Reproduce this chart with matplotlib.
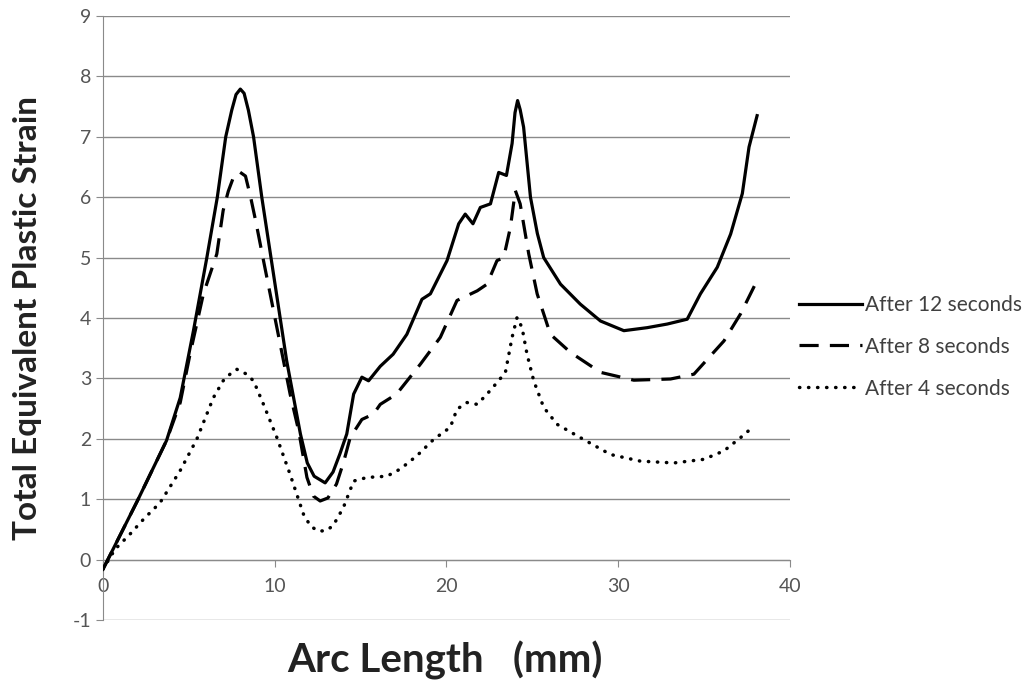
import matplotlib
matplotlib.use("Agg")
import matplotlib.pyplot as plt

# arc length (mm) / strain
x12 = [0, 2.0, 3.7, 4.5, 5.27, 6.05, 6.66, 7.15, 7.5, 7.75, 8.0, 8.22, 8.47, 8.77, 9.25,
       9.93, 10.7, 11.5, 11.9, 12.3, 12.94, 13.4, 13.8, 14.2, 14.6, 15.08, 15.47, 16.15,
       16.9, 17.7, 18.58, 19.07, 20.04, 20.72, 21.1, 21.55, 21.98, 22.57, 23.05, 23.5,
       23.83, 24.0, 24.15, 24.3, 24.5, 24.9, 25.3, 25.67, 26.65, 27.8, 28.98, 30.34, 31.7,
       32.87, 34.03, 34.8, 35.78, 36.56, 37.24, 37.63, 38.1]
y12 = [-0.16, 0.97, 1.97, 2.68, 3.79, 5.0, 6.0, 7.0, 7.44, 7.7, 7.79, 7.72, 7.44, 7.0, 6.0,
       4.73, 3.29, 2.08, 1.6, 1.38, 1.27, 1.45, 1.75, 2.08, 2.74, 3.02, 2.96, 3.2,
       3.4, 3.73, 4.31, 4.4, 4.95, 5.56, 5.72, 5.56, 5.83, 5.89, 6.41, 6.36,
       6.89, 7.4, 7.6, 7.45, 7.16, 6.0, 5.4, 5.0, 4.56, 4.23, 3.95, 3.79, 3.84,
       3.9, 3.98, 4.4, 4.84, 5.39, 6.06, 6.83, 7.35]

x8 = [0, 2.0, 3.7, 4.5, 5.07, 5.85, 6.63, 7.0, 7.3, 7.6, 7.95, 8.3, 8.6, 8.9, 9.35,
      10.13, 10.9, 11.4, 11.88, 12.26, 12.65, 13.1, 13.6, 14.0, 14.4, 15.08, 15.76,
      16.15, 17.1, 18.5, 19.65, 20.62, 21.8, 22.37, 22.95, 23.34, 23.73, 24.02, 24.3,
      24.8, 25.29, 26.06, 27.23, 28.98, 30.92, 33.06, 34.42, 36.17, 37.14, 38.1]
y8 = [-0.16, 0.97, 1.97, 2.6, 3.4, 4.4, 5.06, 5.78, 6.1, 6.33, 6.42, 6.35, 6.0, 5.6, 4.95,
      3.84, 2.74, 2.13, 1.36, 1.05, 0.97, 1.02, 1.25, 1.6, 2.02, 2.32, 2.41,
      2.57, 2.74, 3.24, 3.68, 4.29, 4.45, 4.56, 4.95, 5.0, 5.5, 6.11, 5.89,
      5.06, 4.4, 3.73, 3.43, 3.1, 2.97, 2.99, 3.07, 3.62, 4.07, 4.62]

x4 = [0, 0.7, 1.57, 2.4, 3.32, 4.49, 5.46, 6.43, 7.0, 7.4, 7.8, 8.3, 8.77, 9.35, 10.13,
      10.9, 11.68, 12.1, 12.56, 13.0, 13.4, 14.0, 14.6, 15.38, 16.54, 17.32, 18.29, 19.26,
      20.23, 20.62, 21.2, 21.8, 22.37, 22.95, 23.44, 23.83, 24.12, 24.41, 24.7, 25.09,
      25.67, 26.45, 27.8, 29.56, 31.3, 33.26, 35.0, 36.17, 37.14, 37.92]
y4 = [-0.16, 0.17, 0.42, 0.68, 0.94, 1.47, 1.99, 2.68, 2.96, 3.07, 3.15, 3.08, 2.96, 2.57,
      2.02, 1.41, 0.75, 0.55, 0.47, 0.48, 0.56, 0.86, 1.3, 1.36, 1.38, 1.5, 1.72, 1.99,
      2.19, 2.49, 2.6, 2.57, 2.74, 2.93, 3.1, 3.68, 4.01, 3.84, 3.4, 2.96,
      2.52, 2.24, 2.02, 1.74, 1.63, 1.6, 1.66, 1.8, 2.02, 2.21]

labels = ["After 12 seconds", "After 8 seconds", "After 4 seconds"]
xticks = [0, 10, 20, 30, 40]
yticks = list(range(-1, 10))

plt.rcParams['font.family'] = ['Lato', 'DejaVu Sans']
plt.rcParams['axes.unicode_minus'] = False

fig = plt.figure(figsize=(10.35, 6.84), dpi=100)
ax = fig.add_axes([0.0995, 0.0936, 0.6635, 0.883])

gray = '#8a8a8a'
for t in yticks:
    ax.axhline(t, color=gray, lw=1.0, zorder=1)

ax.plot(x12, y12, color='black', lw=2.3, label=labels[0], zorder=3,
        solid_joinstyle='round')
ax.plot(x8, y8, color='black', lw=2.3, linestyle=(0, (6, 3.5)), label=labels[1], zorder=3)
ax.plot(x4, y4, color='black', lw=2.5, linestyle=(0, (0.1, 2.5)),
        dash_capstyle='round', label=labels[2], zorder=3)

ax.set_xlim(0, 40)
ax.set_ylim(-1, 9)
ax.set_xticks(xticks)
ax.set_yticks(yticks)

for s in ['top', 'right']:
    ax.spines[s].set_visible(False)
ax.spines['bottom'].set_position(('data', 0))
ax.spines['bottom'].set_color(gray)
ax.spines['left'].set_color(gray)
ax.tick_params(axis='both', colors=gray, labelcolor='#555555', labelsize=14,
               length=5, direction='out')
ax.tick_params(axis='x', pad=8)

fig.text(0.027, 0.535, 'Total Equivalent Plastic Strain', rotation=90,
         ha='center', va='center', fontsize=24, fontweight='bold', color='#222222')
fig.text(0.43, 0.035, 'Arc Length   (mm)', ha='center', va='center',
         fontsize=29, fontweight='bold', color='#222222')

fig.legend(loc='center left', bbox_to_anchor=(0.754, 0.493), frameon=False,
           fontsize=15, handlelength=3.0, labelspacing=1.05, handletextpad=0.15,
           labelcolor='#404040')

fig.savefig('out.png', dpi=100)
